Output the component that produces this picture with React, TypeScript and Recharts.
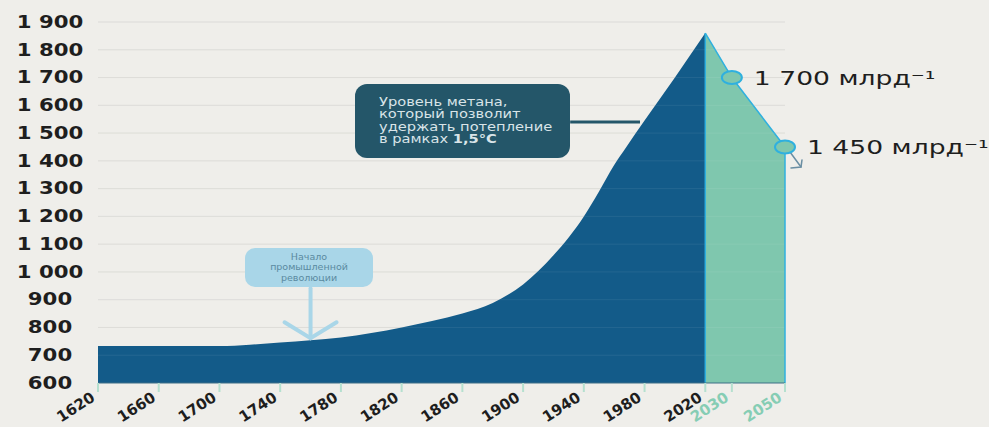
import {
  Area,
  CartesianGrid,
  ComposedChart,
  ReferenceDot,
  ReferenceLine,
  XAxis,
  YAxis,
} from "recharts";

// Methane concentration, ppb
const histYears = [
  1620, 1660, 1700, 1720, 1740, 1760, 1780, 1800, 1820, 1840, 1860, 1880,
  1900, 1920, 1940, 1950, 1960, 1968, 1980, 2000, 2020,
];
const histValues = [
  733, 733, 733, 738, 746, 754, 764, 780, 800, 823, 850, 888, 955, 1060,
  1200, 1290, 1385, 1450, 1545, 1700, 1860,
];
const projYears = [2020, 2030, 2050];
const projValues = [1860, 1700, 1450];

const yearTicks = [
  1620, 1660, 1700, 1740, 1780, 1820, 1860, 1900, 1940, 1980, 2020, 2030, 2050,
];
const valueTicks = [
  600, 700, 800, 900, 1000, 1100, 1200, 1300, 1400, 1500, 1600, 1700, 1800,
  1900,
];

const unit = "млрд⁻¹";
const industrialYear = 1760;
const targetLevel = 1540;

const BG = "#efeeea";
const DARK = "#135b89";
const MINT = "#7fc7ae";
const CYAN = "#2fb0df";
const FONT = "DejaVu Sans";

// projection years are drawn on a stretched part of the axis
const axisPos = (year: number) =>
  year <= 2020 ? year : 2020 + (year - 2020) * 1.75;
const posToYear = (pos: number) =>
  yearTicks.find((y) => Math.abs(axisPos(y) - pos) < 0.01) ?? Math.round(pos);

const fmt = (v: number) =>
  v >= 1000
    ? `${Math.floor(v / 1000)} ${String(v % 1000).padStart(3, "0")}`
    : String(v);

const allYears = Array.from(new Set([...histYears, ...projYears])).sort(
  (a, b) => a - b
);
const rows = allYears.map((year) => {
  const hi = histYears.indexOf(year);
  const pi = projYears.indexOf(year);
  return {
    year,
    pos: axisPos(year),
    hist: hi >= 0 ? histValues[hi] : null,
    proj: pi >= 0 ? projValues[pi] : null,
  };
});

function ValueTick({ x, y, payload }: any) {
  return (
    <g transform={`translate(${x - 48},${y})`}>
      <text
        transform="scale(1.25,1)"
        textAnchor="middle"
        dominantBaseline="central"
        fontFamily={FONT}
        fontWeight={700}
        fontSize={17}
        fill="#1e1e1e"
      >
        {fmt(payload.value)}
      </text>
    </g>
  );
}

function YearTick({ x, y, payload }: any) {
  const year = posToYear(payload.value);
  const ax = x - 2;
  const ay = y + 8;
  return (
    <text
      x={ax}
      y={ay}
      transform={`rotate(-33 ${ax} ${ay})`}
      textAnchor="end"
      fontFamily={FONT}
      fontWeight={700}
      fontSize={15}
      fill={year > 2020 ? "#86cdb4" : "#1e1e1e"}
    >
      {year}
    </text>
  );
}

function ProjDot(props: any) {
  const { cx, cy, payload, index } = props;
  if (payload.proj == null || payload.year === projYears[0])
    return <g key={`d${index}`} />;
  const last = payload.year === projYears[projYears.length - 1];
  return (
    <g key={`d${index}`}>
      {last && (
        <g stroke="#6a8ea3" strokeWidth={1.5} fill="none" strokeLinecap="round">
          <line x1={cx + 5} y1={cy + 5} x2={cx + 16} y2={cy + 20} />
          <polyline
            points={`${cx + 6},${cy + 21} ${cx + 16},${cy + 20} ${cx + 17},${cy + 13}`}
          />
        </g>
      )}
      <ellipse
        cx={cx}
        cy={cy}
        rx={10}
        ry={6.5}
        fill={MINT}
        stroke={CYAN}
        strokeWidth={2}
      />
      <g transform={`translate(${cx + 22},${cy + 7})`}>
        <text
          transform="scale(1.4,1)"
          fontFamily={FONT}
          fontSize={19}
          fill="#1e1e1e"
        >
          {fmt(payload.proj)} {unit}
        </text>
      </g>
    </g>
  );
}

function IndustrialArrow({ cx, cy }: any) {
  const c = "#a9d6e8";
  return (
    <g stroke={c} strokeWidth={4} strokeLinecap="round" fill="none">
      <line x1={cx} y1={cy - 52} x2={cx} y2={cy - 2} />
      <polyline
        points={`${cx - 26},${cy - 18} ${cx},${cy - 2} ${cx + 26},${cy - 18}`}
      />
    </g>
  );
}

export default function App() {
  const lastHist = histValues[histValues.length - 1];
  const lastProj = projValues[projValues.length - 1];
  const lastYear = projYears[projYears.length - 1];
  return (
    <div
      style={{
        position: "absolute",
        left: 0,
        top: 0,
        width: 989,
        height: 427,
        background: BG,
        overflow: "hidden",
      }}
    >
      <ComposedChart
        width={989}
        height={427}
        data={rows}
        margin={{ top: 22, right: 204, bottom: 0, left: 0 }}
      >
        <CartesianGrid
          vertical={false}
          stroke="rgba(190,190,185,0.4)"
          horizontalValues={valueTicks.slice(1)}
        />
        <XAxis
          type="number"
          dataKey="pos"
          domain={[histYears[0], axisPos(lastYear)]}
          ticks={yearTicks.map(axisPos)}
          tick={<YearTick />}
          tickSize={9}
          tickMargin={0}
          tickLine={{ stroke: "#b5e0cf", strokeWidth: 2 }}
          axisLine={{ stroke: "#3f6f86" }}
          height={44}
          interval={0}
        />
        <YAxis
          type="number"
          domain={[600, 1900]}
          ticks={valueTicks}
          tick={<ValueTick />}
          tickSize={0}
          tickMargin={0}
          axisLine={false}
          tickLine={false}
          width={98}
          interval={0}
        />
        <Area
          type="monotone"
          dataKey="hist"
          fill={DARK}
          fillOpacity={1}
          stroke="none"
          baseValue={600}
          isAnimationActive={false}
        />
        <Area
          type="linear"
          dataKey="proj"
          fill={MINT}
          fillOpacity={1}
          stroke={CYAN}
          strokeWidth={1.5}
          baseValue={600}
          dot={ProjDot}
          activeDot={false}
          isAnimationActive={false}
        />
        {/* faint grid lines that stay visible across the filled areas */}
        {valueTicks.slice(1).map((v) => (
          <ReferenceLine
            key={v}
            y={v}
            stroke="rgba(255,255,255,0.07)"
            strokeWidth={1}
          />
        ))}
        <ReferenceLine
          segment={[
            { x: axisPos(2020), y: 600 },
            { x: axisPos(2020), y: lastHist },
          ]}
          stroke={CYAN}
          strokeWidth={1.5}
        />
        <ReferenceLine
          segment={[
            { x: axisPos(lastYear), y: 600 },
            { x: axisPos(lastYear), y: lastProj },
          ]}
          stroke={CYAN}
          strokeWidth={1.5}
        />
        <ReferenceLine
          segment={[
            { x: 1931, y: targetLevel },
            { x: 1977, y: targetLevel },
          ]}
          stroke="#245669"
          strokeWidth={3}
        />
        <ReferenceDot
          x={industrialYear}
          y={histValues[histYears.indexOf(industrialYear)]}
          shape={IndustrialArrow}
        />
      </ComposedChart>

      <div
        style={{
          position: "absolute",
          left: 355,
          top: 84,
          width: 215,
          height: 74,
          borderRadius: 12,
          background: "#245669",
          boxSizing: "border-box",
          padding: "12px 0 0 24px",
          fontFamily: FONT,
          fontSize: 12,
          lineHeight: "12.4px",
          color: "#d9e4e8",
        }}
      >
        <div style={{ transform: "scaleX(1.22)", transformOrigin: "left" }}>
          Уровень метана,
          <br />
          который позволит
          <br />
          удержать потепление
          <br />в рамках <b>1,5°C</b>
        </div>
      </div>

      <div
        style={{
          position: "absolute",
          left: 245,
          top: 248,
          width: 128,
          height: 39,
          borderRadius: 10,
          background: "#a9d6e8",
          boxSizing: "border-box",
          paddingTop: 4,
          textAlign: "center",
          fontFamily: FONT,
          fontSize: 9.5,
          lineHeight: "10.3px",
          color: "#5a8aa0",
        }}
      >
        Начало
        <br />
        промышленной
        <br />
        революции
      </div>
    </div>
  );
}
